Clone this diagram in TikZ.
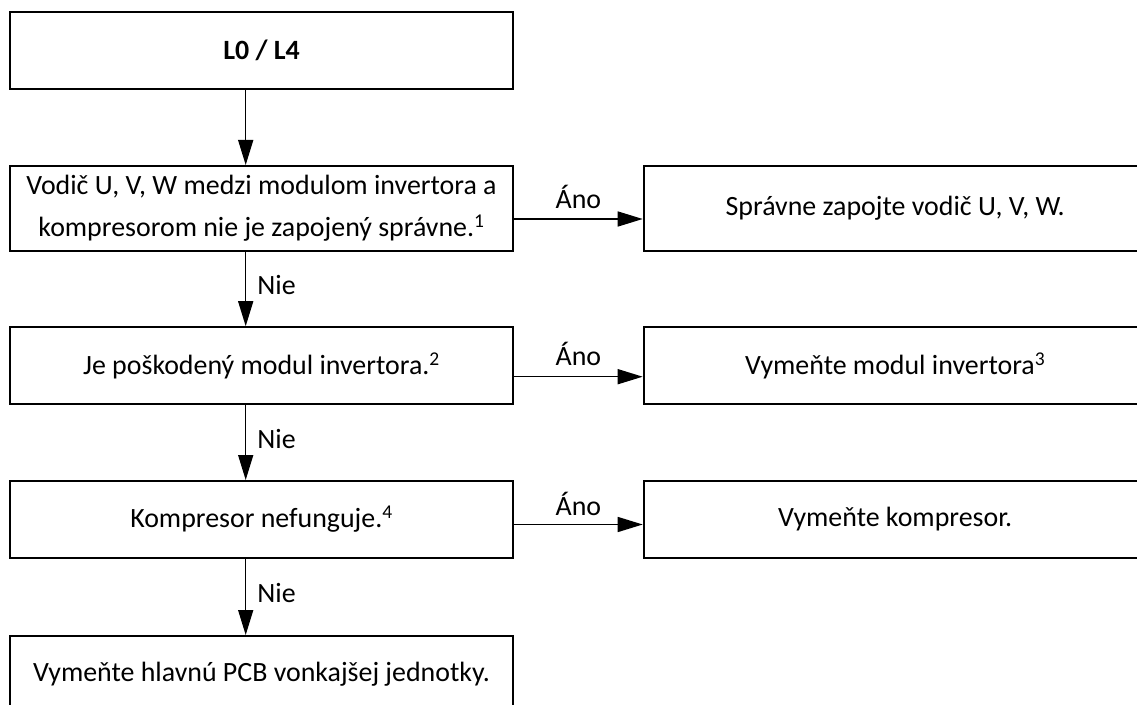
\documentclass[tikz,border=0pt]{standalone}
\usepackage{fontspec}
\setmainfont{Carlito}
\usetikzlibrary{arrows.meta}
\begin{document}
\begin{tikzpicture}[x=1bp,y=-1bp,
  box/.style={draw, line width=2bp, minimum width=503bp, inner sep=0pt, align=center,
    font=\fontsize{28}{42}\selectfont},
  arr/.style={line width=1.5bp, -{Triangle[length=25bp,width=15bp]}},
  lbl/.style={font=\fontsize{28}{32}\selectfont, inner sep=0pt}]
\useasboundingbox (0,0) rectangle (1137,705);
\clip (0,0) rectangle (1137,705);
% left column
\node[box, minimum height=76.7bp] (b1) at (261.5,50.35) {\textbf{L0 / L4}};
\node[box, minimum height=85bp] (b2) at (261.5,208.5) {Vodič U, V, W medzi modulom invertora a\\kompresorom nie je zapojený správne.\textsuperscript{1}};
\node[box, minimum height=77bp] (b3) at (261.5,365.7) {Je poškodený modul invertora.\textsuperscript{2}};
\node[box, minimum height=77bp] (b4) at (261.5,519.5) {Kompresor nefunguje.\textsuperscript{4}};
\node[box, minimum height=77bp] (b5) at (261.5,674.5) {Vymeňte hlavnú PCB vonkajšej jednotky.};
% right column
\node[box, minimum height=85bp] (r1) at (895.2,208.5) {Správne zapojte vodič U, V, W.};
\node[box, minimum height=77bp] (r2) at (895.2,365.7) {Vymeňte modul invertora\textsuperscript{3}};
\node[box, minimum height=77bp] (r3) at (895.2,519.5) {Vymeňte kompresor.};
% vertical arrows
\draw[arr] ([xshift=-15.8bp]b1.south) -- ([xshift=-15.8bp]b2.north);
\draw[arr] ([xshift=-15.8bp]b2.south) -- node[lbl, midway, right=11bp, yshift=4bp] {Nie} ([xshift=-15.8bp]b3.north);
\draw[arr] ([xshift=-15.8bp]b3.south) -- node[lbl, midway, right=11bp, yshift=4bp] {Nie} ([xshift=-15.8bp]b4.north);
\draw[arr] ([xshift=-15.8bp]b4.south) -- node[lbl, midway, right=11bp, yshift=4bp] {Nie} ([xshift=-15.8bp]b5.north);
% horizontal arrows
\draw[arr] ([yshift=-10.5bp]b2.east) -- node[lbl, midway, above=10bp] {Áno} ([yshift=-10.5bp]r1.west);
\draw[arr] ([yshift=-11bp]b3.east) -- node[lbl, midway, above=10bp] {Áno} ([yshift=-11bp]r2.west);
\draw[arr] ([yshift=-5bp]b4.east) -- node[lbl, midway, above=8bp] {Áno} ([yshift=-5bp]r3.west);
\end{tikzpicture}
\end{document}
